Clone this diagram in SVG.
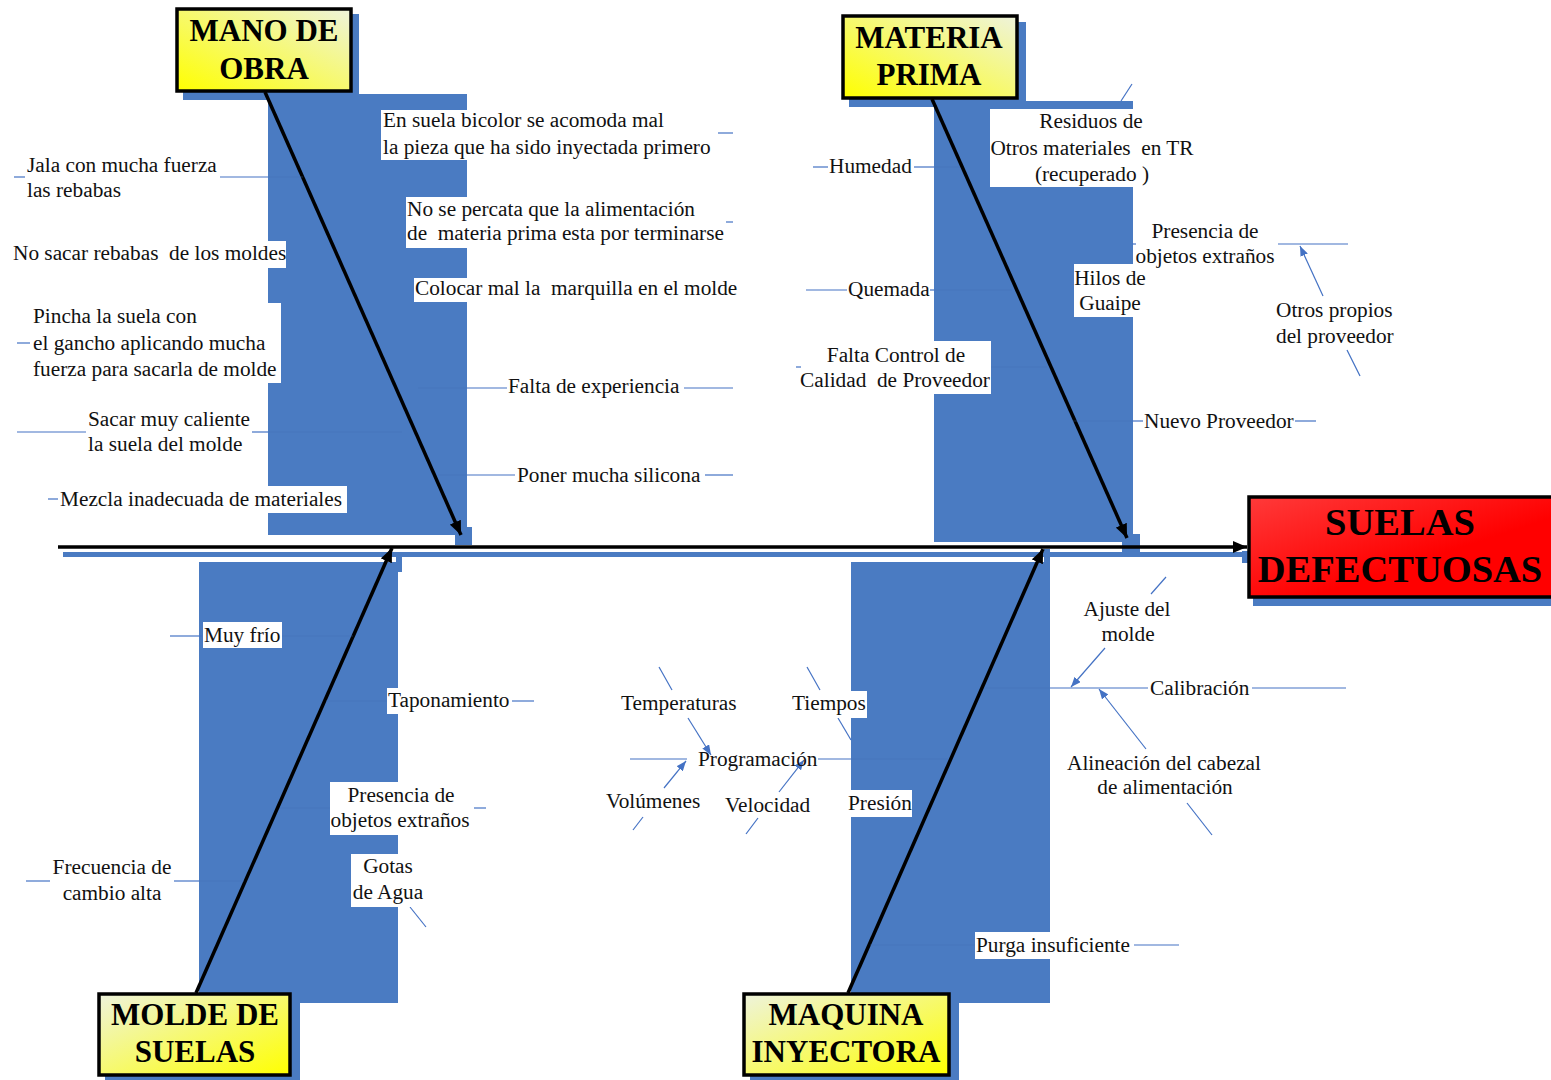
<svg xmlns="http://www.w3.org/2000/svg" width="1551" height="1080" viewBox="0 0 1551 1080">
<defs>
<style>
.bg{fill:#4a7bc2}
.wb{fill:#ffffff}
.t{font-family:"Liberation Serif","Times New Roman",serif;font-size:21.3px;fill:#111;white-space:pre}
.c{text-anchor:middle}
.h{font-family:"Liberation Serif","Times New Roman",serif;font-size:31px;font-weight:bold;fill:#000;text-anchor:middle}
.hr{font-family:"Liberation Serif","Times New Roman",serif;font-size:38.5px;font-weight:bold;fill:#000;text-anchor:middle}
.ln{stroke:#4472c4;stroke-width:1.2;fill:none}
.lnf{stroke:#3f6db5;stroke-width:1;fill:none;stroke-opacity:0.35}
.arr{stroke:#000;stroke-width:3.5;fill:none;marker-end:url(#ah)}
.barr{stroke:#4472c4;stroke-width:1.2;fill:none;marker-end:url(#bh)}
.box{stroke:#000;stroke-width:3.5}
</style>
<linearGradient id="gTop" x1="0" y1="1" x2="1" y2="0">
<stop offset="0" stop-color="#ffff00"/>
<stop offset="1" stop-color="#eef3dc"/>
</linearGradient>
<linearGradient id="gBot" x1="0" y1="0" x2="1" y2="1">
<stop offset="0" stop-color="#eef3dc"/>
<stop offset="1" stop-color="#ffff00"/>
</linearGradient>
<linearGradient id="gRed" x1="0" y1="0" x2="1" y2="1">
<stop offset="0" stop-color="#ff3a3a"/>
<stop offset="0.6" stop-color="#ff0000"/>
<stop offset="1" stop-color="#ff0000"/>
</linearGradient>
<marker id="ah" markerUnits="userSpaceOnUse" markerWidth="14" markerHeight="12" refX="14" refY="6" orient="auto">
<path d="M0,0 L14,6 L0,12 z" fill="#000"/>
</marker>
<marker id="bh" markerUnits="userSpaceOnUse" markerWidth="10" markerHeight="8" refX="10" refY="4" orient="auto">
<path d="M0,0 L10,4 L0,8 z" fill="#4472c4"/>
</marker>
</defs>
<rect width="1551" height="1080" fill="#fff"/>

<g id="shadows">
<rect class="bg" x="268" y="94" width="199" height="441"/>
<rect class="bg" x="455" y="527" width="17" height="18"/>
<rect class="bg" x="183" y="14" width="176" height="86"/>
<rect class="bg" x="934" y="101" width="199" height="441"/>
<rect class="bg" x="1122" y="534" width="18" height="18"/>
<rect class="bg" x="849" y="22" width="177" height="85"/>
<rect class="bg" x="199" y="562" width="199" height="441"/>
<rect class="bg" x="396" y="557" width="6" height="15"/>
<rect class="bg" x="105" y="1001" width="195" height="79"/>
<rect class="bg" x="851" y="562" width="199" height="441"/>
<rect class="bg" x="1044" y="549" width="6" height="14"/>
<rect class="bg" x="750" y="1000" width="209" height="80"/>
<rect class="bg" x="63" y="552" width="1182" height="5"/>
<rect class="bg" x="1242" y="551" width="8" height="12"/>
<rect class="bg" x="1253" y="596" width="298" height="10"/>
</g>

<g id="connectors">
<line x1="58" y1="547" x2="1247" y2="547" class="arr"/>
<line x1="265" y1="92" x2="461" y2="535" class="arr"/>
<line x1="932" y1="99" x2="1127" y2="538" class="arr"/>
<line x1="196" y1="993" x2="392" y2="548" class="arr"/>
<line x1="848" y1="993" x2="1043" y2="549" class="arr"/>
<!-- MANO DE OBRA -->
<line class="ln" x1="718" y1="133" x2="733" y2="133"/>
<line class="ln" x1="14" y1="177" x2="25" y2="177"/>
<line class="ln" x1="220" y1="177" x2="268" y2="177"/>
<line class="lnf" x1="268" y1="177" x2="303" y2="177"/>
<line class="ln" x1="719" y1="222" x2="733" y2="222"/>
<line class="ln" x1="17" y1="343" x2="32" y2="343"/>
<line class="lnf" x1="418" y1="388" x2="467" y2="388"/>
<line class="ln" x1="467" y1="388" x2="507" y2="388"/>
<line class="ln" x1="684" y1="388" x2="733" y2="388"/>
<line class="ln" x1="17" y1="432" x2="86" y2="432"/>
<line class="ln" x1="252" y1="432" x2="268" y2="432"/>
<line class="lnf" x1="268" y1="432" x2="402" y2="432"/>
<line class="lnf" x1="438" y1="475" x2="467" y2="475"/>
<line class="ln" x1="467" y1="475" x2="515" y2="475"/>
<line class="ln" x1="705" y1="475" x2="733" y2="475"/>
<line class="ln" x1="48" y1="499" x2="59" y2="499"/>
<!-- MATERIA PRIMA -->
<line class="ln" x1="1121" y1="101" x2="1132" y2="84"/>
<line class="ln" x1="813" y1="167" x2="828" y2="167"/>
<line class="ln" x1="914" y1="167" x2="934" y2="167"/>
<line class="lnf" x1="934" y1="167" x2="960" y2="167"/>
<line class="ln" x1="1132" y1="244" x2="1136" y2="244"/>
<line class="ln" x1="1278" y1="244" x2="1348" y2="244"/>
<line class="ln" x1="806" y1="290" x2="847" y2="290"/>
<line class="ln" x1="930" y1="290" x2="934" y2="290"/>
<line class="lnf" x1="934" y1="290" x2="1012" y2="290"/>
<line class="ln" x1="796" y1="367" x2="801" y2="367"/>
<line class="lnf" x1="990" y1="367" x2="1047" y2="367"/>
<line class="lnf" x1="1072" y1="421" x2="1132" y2="421"/>
<line class="ln" x1="1132" y1="421" x2="1143" y2="421"/>
<line class="ln" x1="1295" y1="421" x2="1316" y2="421"/>
<line class="barr" x1="1323" y1="296" x2="1300" y2="246"/>
<line class="ln" x1="1347" y1="350" x2="1360" y2="376"/>
<!-- MOLDE DE SUELAS -->
<line class="ln" x1="170" y1="636" x2="202" y2="636"/>
<line class="lnf" x1="282" y1="636" x2="353" y2="636"/>
<line class="lnf" x1="326" y1="701" x2="387" y2="701"/>
<line class="ln" x1="512" y1="701" x2="534" y2="701"/>
<line class="lnf" x1="280" y1="808" x2="330" y2="808"/>
<line class="ln" x1="474" y1="808" x2="486" y2="808"/>
<line class="barr" x1="353" y1="833" x2="335" y2="810"/>
<line class="ln" x1="26" y1="881" x2="50" y2="881"/>
<line class="ln" x1="174" y1="881" x2="199" y2="881"/>
<line class="lnf" x1="199" y1="881" x2="244" y2="881"/>
<line class="ln" x1="410" y1="907" x2="426" y2="927"/>
<!-- MAQUINA INYECTORA -->
<line class="ln" x1="659" y1="667" x2="672" y2="690"/>
<line class="barr" x1="688" y1="718" x2="711" y2="755"/>
<line class="ln" x1="807" y1="667" x2="820" y2="690"/>
<line class="ln" x1="838" y1="718" x2="851" y2="740"/>
<line class="ln" x1="630" y1="759" x2="687" y2="759"/>
<line class="ln" x1="818" y1="759" x2="851" y2="759"/>
<line class="lnf" x1="851" y1="759" x2="948" y2="759"/>
<line class="barr" x1="664" y1="788" x2="686" y2="761"/>
<line class="ln" x1="633" y1="830" x2="643" y2="817"/>
<line class="barr" x1="779" y1="792" x2="804" y2="760"/>
<line class="ln" x1="746" y1="834" x2="758" y2="818"/>
<line class="ln" x1="1151" y1="594" x2="1166" y2="577"/>
<line class="barr" x1="1105" y1="648" x2="1071" y2="687"/>
<line class="lnf" x1="984" y1="688" x2="1050" y2="688"/>
<line class="ln" x1="1050" y1="688" x2="1148" y2="688"/>
<line class="ln" x1="1252" y1="688" x2="1346" y2="688"/>
<line class="barr" x1="1146" y1="749" x2="1099" y2="689"/>
<line class="ln" x1="1187" y1="803" x2="1212" y2="835"/>
<line class="lnf" x1="870" y1="945" x2="975" y2="945"/>
<line class="ln" x1="1134" y1="945" x2="1179" y2="945"/>
</g>

<g id="mano-de-obra">
<rect class="box" x="177" y="9" width="174" height="82" fill="url(#gTop)"/>
<text class="h" x="264" y="41">MANO DE</text>
<text class="h" x="264" y="79">OBRA</text>
</g>
<g id="materia-prima">
<rect class="box" x="843" y="16" width="174" height="82" fill="url(#gTop)"/>
<text class="h" x="929" y="48">MATERIA</text>
<text class="h" x="929" y="85">PRIMA</text>
</g>
<g id="molde-de-suelas">
<rect class="box" x="99" y="994" width="191" height="81" fill="url(#gBot)"/>
<text class="h" x="195" y="1025">MOLDE DE</text>
<text class="h" x="195" y="1062">SUELAS</text>
</g>
<g id="maquina-inyectora">
<rect class="box" x="744" y="994" width="205" height="81" fill="url(#gBot)"/>
<text class="h" x="846" y="1025">MAQUINA</text>
<text class="h" x="846" y="1062">INYECTORA</text>
</g>
<g id="suelas-defectuosas">
<rect class="box" x="1249" y="497" width="305" height="100" fill="url(#gRed)"/>
<text class="hr" x="1400" y="535">SUELAS</text>
<text class="hr" x="1400" y="582">DEFECTUOSAS</text>
</g>

<g id="c-en-suela"><rect class="wb" x="381" y="110" width="333" height="50"/>
<text class="t" x="383" y="127">En suela bicolor se acomoda mal</text>
<text class="t" x="383" y="154">la pieza que ha sido inyectada primero</text></g>
<g id="c-jala"><text class="t" x="27" y="172">Jala con mucha fuerza</text>
<text class="t" x="27" y="197">las rebabas</text></g>
<g id="c-no-se-percata"><rect class="wb" x="406" y="197" width="320" height="51"/>
<text class="t" x="407" y="216">No se percata que la alimentación</text>
<text class="t" x="407" y="240">de  materia prima esta por terminarse</text></g>
<g id="c-no-sacar"><rect class="wb" x="10" y="241" width="276" height="27"/>
<text class="t" x="13" y="260">No sacar rebabas  de los moldes</text></g>
<g id="c-colocar"><rect class="wb" x="414" y="278" width="326" height="24"/>
<text class="t" x="415" y="295">Colocar mal la  marquilla en el molde</text></g>
<g id="c-pincha"><rect class="wb" x="30" y="303" width="251" height="80"/>
<text class="t" x="33" y="323">Pincha la suela con</text>
<text class="t" x="33" y="350">el gancho aplicando mucha</text>
<text class="t" x="33" y="376">fuerza para sacarla de molde</text></g>
<g id="c-falta-exp"><text class="t" x="508" y="393">Falta de experiencia</text></g>
<g id="c-sacar"><text class="t" x="88" y="426">Sacar muy caliente</text>
<text class="t" x="88" y="451">la suela del molde</text></g>
<g id="c-poner"><text class="t" x="517" y="482">Poner mucha silicona</text></g>
<g id="c-mezcla"><rect class="wb" x="58" y="486" width="289" height="27"/>
<text class="t" x="60" y="506">Mezcla inadecuada de materiales</text></g>

<g id="c-humedad"><text class="t" x="829" y="173">Humedad</text></g>
<g id="c-residuos"><rect class="wb" x="990" y="109" width="204" height="78"/>
<text class="t c" x="1091" y="128">Residuos de</text>
<text class="t c" x="1092" y="155">Otros materiales  en TR</text>
<text class="t c" x="1092" y="181">(recuperado )</text></g>
<g id="c-presencia-mp"><text class="t c" x="1205" y="238">Presencia de</text>
<text class="t c" x="1205" y="263">objetos extraños</text></g>
<g id="c-hilos"><rect class="wb" x="1074" y="264" width="72" height="53"/>
<text class="t c" x="1110" y="285">Hilos de</text>
<text class="t c" x="1110" y="310">Guaipe</text></g>
<g id="c-quemada"><text class="t" x="848" y="296">Quemada</text></g>
<g id="c-otros"><text class="t" x="1276" y="317">Otros propios</text>
<text class="t" x="1276" y="343">del proveedor</text></g>
<g id="c-falta-control"><rect class="wb" x="801" y="341" width="190" height="53"/>
<text class="t c" x="896" y="362">Falta Control de</text>
<text class="t c" x="895" y="387">Calidad  de Proveedor</text></g>
<g id="c-nuevo"><text class="t" x="1144" y="428">Nuevo Proveedor</text></g>

<g id="c-muy-frio"><rect class="wb" x="203" y="622" width="79" height="26"/>
<text class="t" x="204" y="642">Muy frío</text></g>
<g id="c-taponamiento"><rect class="wb" x="387" y="688" width="123" height="26"/>
<text class="t" x="388" y="707">Taponamiento</text></g>
<g id="c-presencia-m"><rect class="wb" x="330" y="782" width="140" height="53"/>
<text class="t c" x="401" y="802">Presencia de</text>
<text class="t c" x="400" y="827">objetos extraños</text></g>
<g id="c-frecuencia"><text class="t c" x="112" y="874">Frecuencia de</text>
<text class="t c" x="112" y="900">cambio alta</text></g>
<g id="c-gotas"><rect class="wb" x="351" y="854" width="72" height="53"/>
<text class="t c" x="388" y="873">Gotas</text>
<text class="t c" x="388" y="899">de Agua</text></g>

<g id="c-temperaturas"><text class="t" x="621" y="710">Temperaturas</text></g>
<g id="c-tiempos"><rect class="wb" x="790" y="691" width="77" height="27"/>
<text class="t" x="792" y="710">Tiempos</text></g>
<g id="c-programacion"><text class="t" x="698" y="766">Programación</text></g>
<g id="c-volumenes"><text class="t" x="606" y="808">Volúmenes</text></g>
<g id="c-velocidad"><text class="t" x="725" y="812">Velocidad</text></g>
<g id="c-presion"><rect class="wb" x="847" y="790" width="65" height="27"/>
<text class="t" x="848" y="810">Presión</text></g>
<g id="c-ajuste"><text class="t c" x="1127" y="616">Ajuste del</text>
<text class="t c" x="1128" y="641">molde</text></g>
<g id="c-calibracion"><text class="t" x="1150" y="695">Calibración</text></g>
<g id="c-alineacion"><text class="t c" x="1164" y="770">Alineación del cabezal</text>
<text class="t c" x="1165" y="794">de alimentación</text></g>
<g id="c-purga"><rect class="wb" x="975" y="932" width="155" height="27"/>
<text class="t" x="976" y="952">Purga insuficiente</text></g>
</svg>
